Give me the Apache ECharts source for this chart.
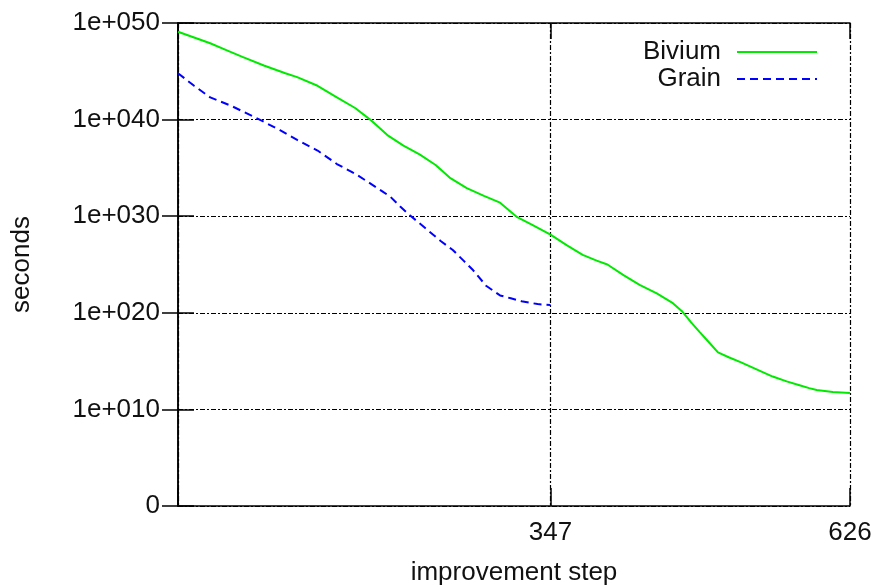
<!DOCTYPE html>
<html>
<head>
<meta charset="utf-8">
<script src="https://cdn.jsdelivr.net/npm/echarts@6/dist/echarts.min.js"></script>
<style>
  html, body { margin: 0; padding: 0; background: #fff; }
  #chart { width: 875px; height: 586px; }
</style>
</head>
<body>
<div id="chart"></div>
<script>
// values, y given as exponent of 10 (seconds)
var biviumSteps = [0, 15, 30, 45, 60, 80, 100, 111, 130, 148, 165, 179, 195, 210, 225, 240, 253, 269, 285, 300, 316, 330, 347, 362, 377, 390, 400, 415, 430, 446, 461, 470, 478, 486, 495, 503, 513, 524, 540, 554, 567, 579, 588, 595, 610, 626];
var biviumLog10 = [49.1, 48.5, 47.9, 47.2, 46.5, 45.6, 44.8, 44.4, 43.5, 42.3, 41.2, 40.0, 38.4, 37.3, 36.4, 35.3, 34.0, 32.9, 32.1, 31.4, 29.9, 29.1, 28.1, 27.0, 26.0, 25.4, 25.0, 23.9, 22.9, 22.0, 21.0, 20.1, 19.0, 18.0, 16.9, 15.9, 15.4, 14.9, 14.1, 13.4, 12.9, 12.5, 12.2, 12.0, 11.8, 11.7];

var grainSteps = [0, 15, 30, 50, 76, 95, 111, 130, 148, 165, 179, 190, 198, 207, 216, 230, 245, 256, 266, 275, 287, 300, 310, 320, 335, 347];
var grainLog10 = [44.8, 43.5, 42.3, 41.4, 40.0, 38.9, 37.9, 36.8, 35.4, 34.4, 33.4, 32.6, 32.0, 31.0, 30.1, 28.8, 27.4, 26.5, 25.4, 24.4, 22.8, 21.8, 21.5, 21.2, 20.9, 20.8];

var xLabelValues = [347, 626];

function pairs(xs, ls) {
  return xs.map(function (x, i) { return [x, Math.pow(10, ls[i])]; });
}

function yLabel(v) {
  var e = Math.round(Math.log10(v));
  if (e === 0) return '0';
  return '1e+0' + String(e).padStart(2, '0');
}

var font = 'Liberation Sans, Arial, sans-serif';
var black = '#000';
var gridDash = { color: black, width: 1.2, type: [5, 2, 2, 2] };

var chart = echarts.init(document.getElementById('chart'), null, { renderer: 'canvas' });

// gnuplot style key: text on the left, line sample on the right, no marker
var legendBase = {
  right: 57, padding: 0, align: 'right',
  itemWidth: 80, itemHeight: 14,
  itemStyle: { opacity: 0 },
  textStyle: { fontFamily: font, fontSize: 26, color: '#111', padding: [0, 11, 0, 0] }
};

var option = {
  backgroundColor: '#fff',
  animation: false,
  grid: { left: 178, right: 25, top: 23, bottom: 80, outerBoundsMode: 'none' },
  legend: [
    Object.assign({ data: ['Bivium'], top: 39 }, legendBase),
    Object.assign({ data: ['Grain'], top: 66 }, legendBase)
  ],
  xAxis: [
    {
      type: 'value', min: 0, max: 626, interval: 347,
      name: 'improvement step', nameLocation: 'middle', nameGap: 54,
      nameTextStyle: { fontFamily: font, fontSize: 26, color: '#111' },
      axisLine: { lineStyle: { color: black, width: 1.5 } },
      axisTick: { inside: true, length: 18, lineStyle: { color: black, width: 1.5 } },
      axisLabel: { customValues: xLabelValues, fontFamily: font, fontSize: 26, color: '#111', margin: 14 },
      splitLine: { show: true, lineStyle: gridDash }
    },
    {
      type: 'value', min: 0, max: 626, interval: 347, position: 'top',
      axisLine: { lineStyle: { color: black, width: 1.5 } },
      axisTick: { inside: true, length: 16, lineStyle: { color: black, width: 1.5 } },
      axisLabel: { show: false },
      splitLine: { show: false }
    }
  ],
  yAxis: [
    {
      type: 'log', logBase: 10, min: 1, max: 1e50, interval: 10,
      name: 'seconds', nameLocation: 'middle', nameGap: 143,
      nameTextStyle: { fontFamily: font, fontSize: 26, color: '#111' },
      axisLine: { show: true, lineStyle: { color: black, width: 1.5 } },
      axisTick: { show: true, inside: true, length: 16, lineStyle: { color: black, width: 1.5 } },
      axisLabel: { formatter: yLabel, fontFamily: font, fontSize: 26, color: '#111', margin: 18 },
      splitLine: { show: true, lineStyle: gridDash }
    },
    {
      type: 'log', logBase: 10, min: 1, max: 1e50, interval: 10, position: 'right',
      axisLine: { show: true, lineStyle: { color: black, width: 1.5 } },
      axisTick: { show: true, inside: true, length: 16, lineStyle: { color: black, width: 1.5 } },
      axisLabel: { show: false },
      splitLine: { show: false }
    }
  ],
  series: [
    {
      name: 'Bivium', type: 'line', xAxisIndex: 0, yAxisIndex: 0,
      data: pairs(biviumSteps, biviumLog10),
      symbol: 'none', smooth: false,
      lineStyle: { color: '#00ea00', width: 2 },
      itemStyle: { color: '#00ea00' }
    },
    {
      name: 'Grain', type: 'line', xAxisIndex: 0, yAxisIndex: 0,
      data: pairs(grainSteps, grainLog10),
      symbol: 'none', smooth: false,
      lineStyle: { color: '#0000ff', width: 2, type: [8, 5] },
      itemStyle: { color: '#0000ff' }
    }
  ]
};

chart.setOption(option);
</script>
</body>
</html>
